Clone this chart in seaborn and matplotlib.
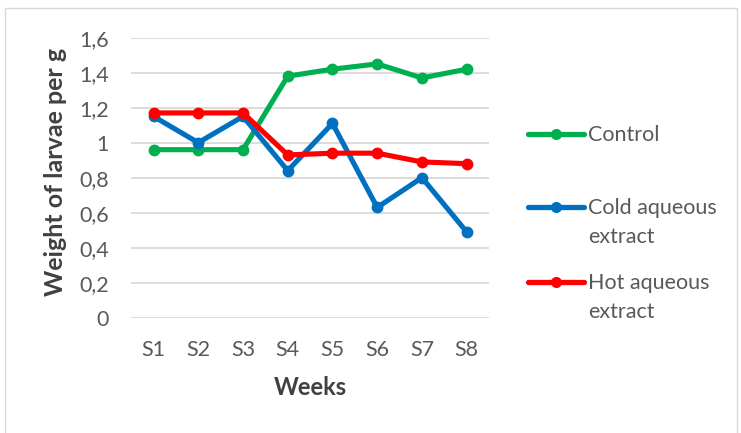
import pandas as pd
import numpy as np
import seaborn as sns
import matplotlib.pyplot as plt
from matplotlib.patches import Rectangle
from matplotlib.lines import Line2D

# data
weeks = ["S1", "S2", "S3", "S4", "S5", "S6", "S7", "S8"]
control = [0.96, 0.96, 0.96, 1.38, 1.42, 1.45, 1.37, 1.42]
cold_extract = [1.15, 1.00, 1.15, 0.84, 1.11, 0.63, 0.80, 0.49]
hot_extract = [1.17, 1.17, 1.17, 0.93, 0.94, 0.94, 0.89, 0.88]
series_names = ["Control", "Cold aqueous\nextract", "Hot aqueous\nextract"]
y_ticks = [0, 0.2, 0.4, 0.6, 0.8, 1, 1.2, 1.4, 1.6]
y_tick_labels = ["0", "0,2", "0,4", "0,6", "0,8", "1", "1,2", "1,4", "1,6"]

df = pd.DataFrame({
    "Week": weeks * 3,
    "Weight": control + cold_extract + hot_extract,
    "Series": np.repeat(series_names, len(weeks)),
})

sns.set_style("white")
plt.rcParams["font.family"] = ["Lato", "DejaVu Sans"]
grey = "#595959"
colors = ["#00B050", "#0070C0", "#FF0000"]
palette = dict(zip(series_names, colors))

fig = plt.figure(figsize=(7.41, 4.33), dpi=100)
ax = fig.add_axes([0.177, 0.2663, 0.483, 0.6467])

sns.lineplot(data=df, x="Week", y="Weight", hue="Series", palette=palette,
             marker="o", markersize=8.5, markeredgewidth=0, linewidth=3.7,
             sort=False, legend=False, ax=ax)

ax.set_ylim(0, 1.6)
ax.set_xlim(-0.5, 7.5)
ax.set_yticks(y_ticks)
ax.set_yticklabels(y_tick_labels)
ax.tick_params(axis="both", length=0, labelsize=15.5, colors=grey, pad=16)
ax.grid(axis="y", color="#D9D9D9", linewidth=1.3)
ax.set_axisbelow(True)
for side in ["top", "right", "left", "bottom"]:
    ax.spines[side].set_visible(False)

ax.set_xlabel("Weeks", fontsize=17, fontweight="bold", color="#404040", va="center")
ax.xaxis.set_label_coords(0.5, -0.251)
ax.set_ylabel("Weight of larvae per g", fontsize=18, fontweight="bold", color="#404040",
              va="center", ha="center")
ax.yaxis.set_label_coords(-0.212, 0.519)

# legend on the right, handle aligned with the first text line
legend_y = [134, 207, 282]
for name, col, yp in zip(series_names, colors, legend_y):
    yf = 1 - yp / 433
    fig.add_artist(Line2D([528 / 741, 584 / 741], [yf, yf], transform=fig.transFigure,
                          color=col, linewidth=3.8, solid_capstyle="round"))
    fig.add_artist(Line2D([556 / 741], [yf], transform=fig.transFigure, color=col,
                          marker="o", markersize=8, markeredgewidth=0))
    fig.text(588 / 741, yf + 9 / 433, name, fontsize=15.5, color=grey, va="top",
             ha="left", linespacing=1.55)

fig.patches.append(Rectangle((0.007, -0.01), 0.988, 0.992, transform=fig.transFigure,
                             fill=False, edgecolor="#D9D9D9", linewidth=1))

fig.savefig("out.png", dpi=100)
